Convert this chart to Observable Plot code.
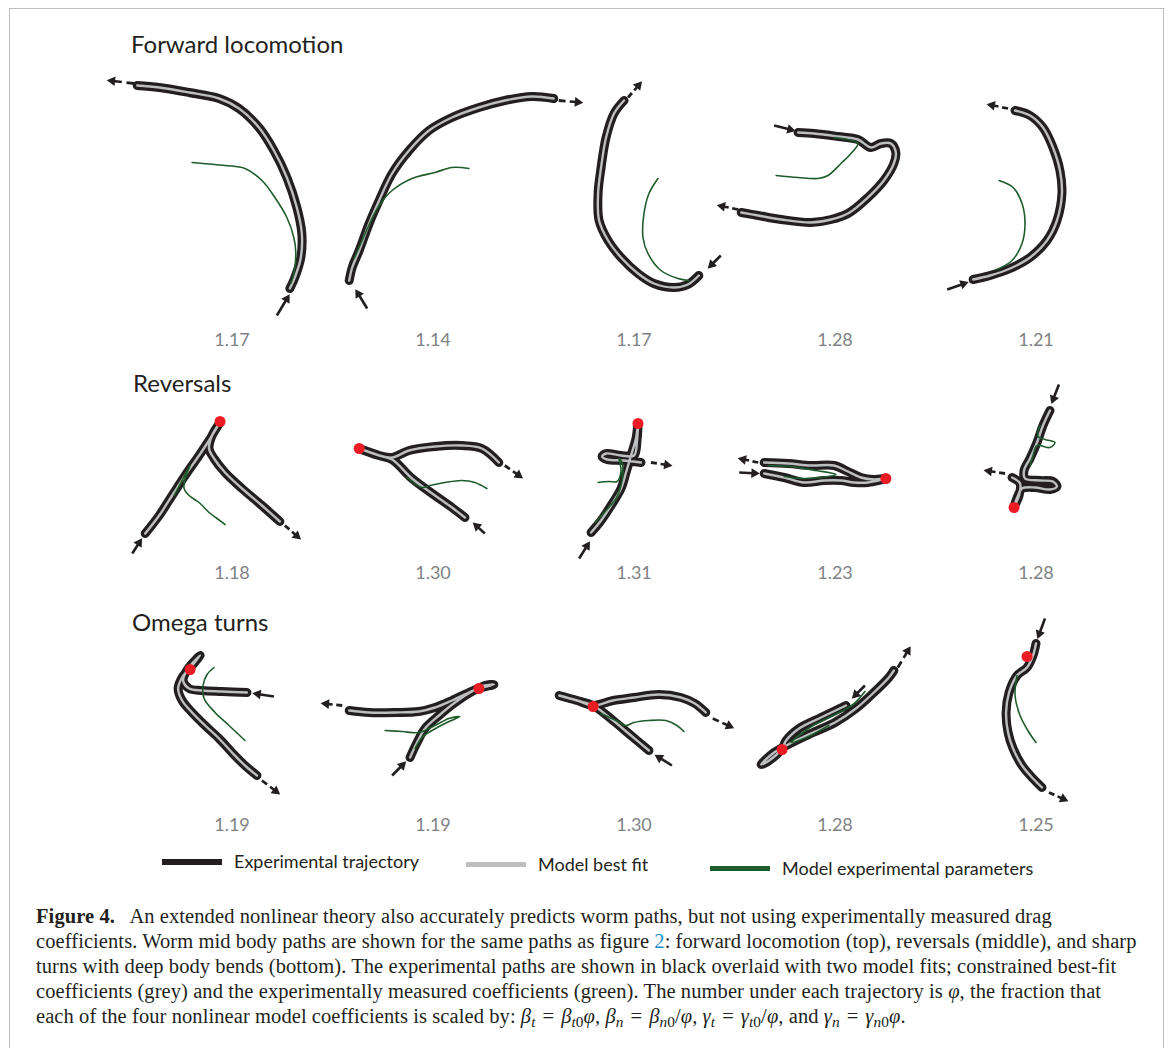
<!DOCTYPE html>
<html><head><meta charset="utf-8">
<script src="https://cdn.jsdelivr.net/npm/d3@7"></script>
<script src="https://cdn.jsdelivr.net/npm/@observablehq/plot@0.6"></script>
<style>
html,body{margin:0;padding:0;background:#fff;width:1171px;height:1048px;overflow:hidden;position:relative;}
#frame{position:absolute;left:9px;top:8px;width:1155px;height:1100px;border:1px solid #bdbdbd;box-sizing:border-box;}
.title{position:absolute;z-index:3;font-family:Lato,"Noto Sans",sans-serif;font-size:24px;line-height:24px;color:#231f20;white-space:nowrap;}
.row{position:absolute;left:0;z-index:1;}
.sw{position:absolute;width:60px;z-index:2;}
.lt{position:absolute;z-index:2;font-family:Lato,"Noto Sans",sans-serif;font-size:18px;line-height:18px;color:#231f20;white-space:nowrap;}
#caption{position:absolute;left:36px;top:904px;z-index:2;font-family:"Liberation Serif","Times New Roman",serif;font-size:20.5px;letter-spacing:0.08px;line-height:25px;color:#231f20;white-space:nowrap;}
#caption sub{font-size:0.75em;line-height:0;vertical-align:-0.28em;}
#caption .fig{color:#1b8ccc;}
#caption .eq{padding:0 7px;}
</style>
</head><body>
<div id="frame"></div>
<div class="title" style="left:131px;top:32px">Forward locomotion</div>
<div class="title" style="left:133px;top:371px">Reversals</div>
<div class="title" style="left:132px;top:610px">Omega turns</div>
<div id="row0" class="row" style="top:60px"></div>
<div id="row1" class="row" style="top:380px"></div>
<div id="row2" class="row" style="top:610px"></div>
<div class="sw" style="left:162px;top:859px;height:6px;background:#231f20"></div>
<div class="lt" style="left:234px;top:852px">Experimental trajectory</div>
<div class="sw" style="left:466px;top:862px;height:5px;background:#bcbec0"></div>
<div class="lt" style="left:538px;top:855px">Model best fit</div>
<div class="sw" style="left:710px;top:866px;height:5px;background:#1e5c2c"></div>
<div class="lt" style="left:782px;top:859px">Model experimental parameters</div>
<div id="caption">
<div><b>Figure 4.</b>&nbsp;&nbsp; An extended nonlinear theory also accurately predicts worm paths, but not using experimentally measured drag</div>
<div>coefficients. Worm mid body paths are shown for the same paths as figure <span class="fig">2</span>: forward locomotion (top), reversals (middle), and sharp</div>
<div>turns with deep body bends (bottom). The experimental paths are shown in black overlaid with two model fits; constrained best-fit</div>
<div>coefficients (grey) and the experimentally measured coefficients (green). The number under each trajectory is <i>φ</i>, the fraction that</div>
<div>each of the four nonlinear model coefficients is scaled by: <i>β</i><sub><i>t</i></sub><span class="eq">=</span><i>β</i><sub><i>t</i>0</sub><i>φ</i>, <i>β</i><sub><i>n</i></sub><span class="eq">=</span><i>β</i><sub><i>n</i>0</sub>/<i>φ</i>, <i>γ</i><sub><i>t</i></sub><span class="eq">=</span><i>γ</i><sub><i>t</i>0</sub>/<i>φ</i>, and <i>γ</i><sub><i>n</i></sub><span class="eq">=</span><i>γ</i><sub><i>n</i>0</sub><i>φ</i>.</div>
</div>
<script>
// ---------- data ----------
const rowNames = ["Forward locomotion", "Reversals", "Omega turns"];
const forwardPhi = [1.17, 1.14, 1.17, 1.28, 1.21];
const reversalPhi = [1.18, 1.30, 1.31, 1.23, 1.28];
const omegaPhi = [1.19, 1.19, 1.30, 1.28, 1.25];

// Experimental trajectories (panel-local units), one list per panel
const forwardExperimental = [
  [[-95,25],[-73,27],[-43,32],[-13,38],[7,48],[27,67],[42,90],[55,117],[65,147],[70,173],[69,197],[63,217],[58,228]],
  [[-84,220],[-81,207],[-74,190],[-64,163],[-54,140],[-41,113],[-24,90],[-4,70],[19,57],[46,47],[72,40],[99,36],[121,38]],
  [[-10,40],[-20,53],[-28,77],[-33,107],[-36,133],[-35,160],[-26,180],[-13,197],[4,213],[20,223],[40,227],[54,224],[65,215]],
  [[-37,72],[-21,73],[3,76],[23,79],[36,87],[46,83],[56,83],[61,92],[59,103],[49,120],[33,137],[13,153],[-4,159],[-24,162],[-54,159],[-77,155],[-94,152]],
  [[-21,50],[-6,55],[7,67],[17,87],[24,110],[26,133],[21,160],[11,180],[-6,197],[-26,208],[-46,215],[-63,219]]
];
const forwardMeasured = [
  [[-40,102],[-7,105],[13,108],[30,120],[43,137],[55,157],[62,177],[64,193],[62,213],[59,223]],
  [[-79,198],[-71,180],[-63,162],[-54,145],[-41,130],[-21,118],[2,112],[19,107],[36,108]],
  [[24,118],[15,133],[10,153],[9,177],[14,193],[27,210],[44,218],[55,220]],
  [[-59,115],[-37,117],[-17,118],[-7,115],[6,103],[16,93],[23,83],[13,79],[-1,77]],
  [[-37,120],[-23,127],[-14,143],[-11,163],[-14,183],[-24,200],[-39,209]]
];
const forwardArrows = [
  [[-98,23,-124,20,"out"],[45,255,57,235,"in"]],
  [[126,40,149,42,"out"],[-66,248,-77,230,"in"]],
  [[-6,37,7,22,"out"],[87,195,75,207,"in"]],
  [[-61,65,-41,70,"in"],[-97,149,-117,145,"out"]],
  [[-28,48,-48,44,"out"],[-89,229,-69,222,"in"]]
];

const reversalExperimental = [
  [[-87,153],[-73,135],[-60,115],[-47,95],[-33,75],[-23,60],[-17,50],[-12,42],[-20,55],[-23,68],[-18,78],[-7,92],[10,108],[30,125],[48,141]],
  [[32,137],[19,127],[2,115],[-21,98],[-41,79],[-54,75],[-74,68],[-54,75],[-41,77],[-24,70],[2,66],[29,65],[49,68],[66,82]],
  [[-43,152],[-33,140],[-23,125],[-13,108],[-8,92],[-3,75],[2,58],[4,43],[3,60],[0,75],[-13,75],[-28,73],[-32,76],[-27,79],[-11,80],[7,82]],
  [[-71,93],[-51,97],[-31,102],[-11,100],[6,100],[19,102],[33,102],[51,98],[39,99],[26,97],[13,91],[-1,85],[-24,85],[-47,83],[-71,82]],
  [[14,30],[7,45],[1,62],[-6,78],[-12,90],[-11,98],[4,100],[17,101],[21,106],[14,109],[-1,107],[-14,108],[-18,115],[-22,126],[-17,115],[-16,103],[-24,97]]
];
const reversalMeasured = [
  [[-58,115],[-50,100],[-42,85],[-47,98],[-48,108],[-43,115],[-33,122],[-23,132],[-15,138],[-7,144]],
  [[-26,97],[-11,107],[-3,105],[12,102],[29,100],[42,102],[54,108]],
  [[-39,142],[-28,130],[-18,118],[-13,105],[-11,92],[-12,82],[-15,78],[-13,90],[-17,101],[-25,101],[-36,102]],
  [[-67,85],[-44,86],[-19,90],[1,94],[-14,97],[-34,98],[-51,96]],
  [[4,45],[2,56],[9,59],[19,62],[14,67],[1,65],[-3,75],[-6,85]]
];
const reversalPoints = [[-12,41],[-74,68],[4,43],[51,98],[-22,127]];
const reversalArrows = [
  [[-100,173,-91,159,"in"],[53,145,68,158,"out"]],
  [[52,153,41,143,"in"],[72,85,89,97,"out"]],
  [[-55,178,-45,162,"in"],[17,82,37,85,"out"]],
  [[-77,82,-96,78,"out"],[-96,92,-77,93,"in"]],
  [[23,4,16,22,"in"],[-31,93,-51,90,"out"]]
];

const omegaExperimental = [
  [[15,82],[-10,81],[-30,80],[-43,78],[-49,70],[-44,58],[-32,45],[-40,55],[-50,67],[-54,78],[-50,90],[-40,102],[-27,115],[-13,128],[0,142],[13,155],[25,165]],
  [[-23,147],[-16,132],[-8,118],[6,105],[22,92],[39,81],[52,75],[61,74],[46,78],[36,82],[19,90],[2,97],[-14,101],[-38,102],[-64,102],[-84,100]],
  [[15,140],[-3,125],[-21,110],[-41,95],[-57,90],[-75,85],[-57,90],[-41,95],[-21,90],[0,87],[25,84],[47,87],[61,93],[72,102]],
  [[11,95],[-14,107],[-36,118],[-49,130],[-53,138],[-66,150],[-74,154],[-61,142],[-43,132],[-22,122],[0,112],[21,98],[39,82],[54,67],[59,60]],
  [[0,33],[-3,45],[-9,57],[-19,65],[-27,82],[-30,102],[-28,122],[-23,138],[-14,155],[-3,168],[6,177]]
];
const omegaMeasured = [
  [[-18,57],[-25,64],[-29,75],[-28,88],[-17,102],[-3,115],[13,130]],
  [[-48,120],[-31,121],[-14,122],[2,115],[16,108],[27,106],[14,112],[-1,120],[-11,127],[-18,138]],
  [[-33,103],[-18,110],[-8,115],[0,112],[15,110],[32,110],[43,115],[50,121]],
  [[30,81],[18,94],[0,104],[-22,115],[-36,125],[-44,132],[-29,127],[-6,115]],
  [[-19,65],[-21,85],[-16,105],[-7,122],[0,132]]
];
const omegaPoints = [[-42,59],[46,78],[-41,96],[-53,139],[-9,46]];
const omegaArrows = [
  [[42,86,22,83,"in"],[30,170,47,183,"out"]],
  [[-41,165,-28,152,"in"],[-91,95,-111,93,"out"]],
  [[38,155,22,145,"in"],[79,108,99,117,"out"]],
  [[30,75,18,87,"in"],[63,57,75,37,"out"]],
  [[9,8,2,27,"in"],[13,182,31,190,"out"]]
];

// ---------- styles ----------
const INK = "#231f20", FIT = "#bcbec0", GREEN = "#1e5c2c", RED = "#ed1c24", NUM = "#808285";

// ---------- helpers ----------
const toRows = paths => paths.flatMap((pts, panel) => pts.map(([x, y], k) => ({panel, k, x, y})));
function arrowParts(list) {
  const dashes = [], shafts = [], heads = [];
  list.forEach((arrs, panel) => arrs.forEach(([x1, y1, x2, y2, kind]) => {
    const dx = x2 - x1, dy = y2 - y1, L = Math.hypot(dx, dy), ux = dx / L, uy = dy / L;
    let sx = x1, sy = y1;
    if (kind === "out") {
      dashes.push({panel, x1, y1, x2: x1 + ux * L * 0.3, y2: y1 + uy * L * 0.3});
      sx = x1 + ux * L * 0.48; sy = y1 + uy * L * 0.48;
    }
    shafts.push({panel, x1: sx, y1: sy, x2: x2 - ux * 5, y2: y2 - uy * 5});
    heads.push({panel, x: x2 - ux * 4, y: y2 - uy * 4, angle: Math.atan2(dx, -dy) * 180 / Math.PI});
  }));
  return {dashes, shafts, heads};
}

function rowPlot(exp, fit, meas, points, arrows, phi, height) {
  const a = arrowParts(arrows);
  const lineOpts = {fx: "panel", x: "x", y: "y", curve: "catmull-rom", strokeLinecap: "round", strokeLinejoin: "round"};
  const marks = [
    Plot.line(toRows(exp), {...lineOpts, stroke: INK, strokeWidth: 9}),
    Plot.line(toRows(fit), {...lineOpts, stroke: FIT, strokeWidth: 2.4}),
    Plot.line(toRows(meas), {...lineOpts, stroke: GREEN, strokeWidth: 1.6}),
    Plot.link(a.dashes, {fx: "panel", x1: "x1", y1: "y1", x2: "x2", y2: "y2", stroke: INK, strokeWidth: 2.8}),
    Plot.link(a.shafts, {fx: "panel", x1: "x1", y1: "y1", x2: "x2", y2: "y2", stroke: INK, strokeWidth: 2.6}),
    Plot.dot(a.heads, {fx: "panel", x: "x", y: "y", symbol: "triangle", r: 3.6, fill: INK, rotate: "angle"}),
    Plot.text(phi.map((v, panel) => ({panel, label: v.toFixed(2)})), {fx: "panel", text: "label", frameAnchor: "bottom", lineAnchor: "bottom", fontSize: 18, fill: NUM, fontFamily: "Lato"})
  ];
  if (points) marks.push(Plot.dot(points.map(([x, y], panel) => ({panel, x, y})), {fx: "panel", x: "x", y: "y", r: 5.5, fill: RED}));
  return Plot.plot({
    width: 1171, height,
    marginLeft: 129.25, marginRight: 34.25, marginTop: 0, marginBottom: 0,
    style: {overflow: "visible", background: "transparent"},
    fx: {domain: [0, 1, 2, 3, 4], padding: 0, axis: null},
    x: {domain: [-100.75, 100.75], axis: null},
    y: {domain: [0, height], range: [0, height], axis: null},
    marks
  });
}

document.getElementById("row0").append(rowPlot(forwardExperimental, forwardExperimental, forwardMeasured, null, forwardArrows, forwardPhi, 285));
document.getElementById("row1").append(rowPlot(reversalExperimental, reversalExperimental, reversalMeasured, reversalPoints, reversalArrows, reversalPhi, 198));
document.getElementById("row2").append(rowPlot(omegaExperimental, omegaExperimental, omegaMeasured, omegaPoints, omegaArrows, omegaPhi, 220));
</script>
</body></html>
